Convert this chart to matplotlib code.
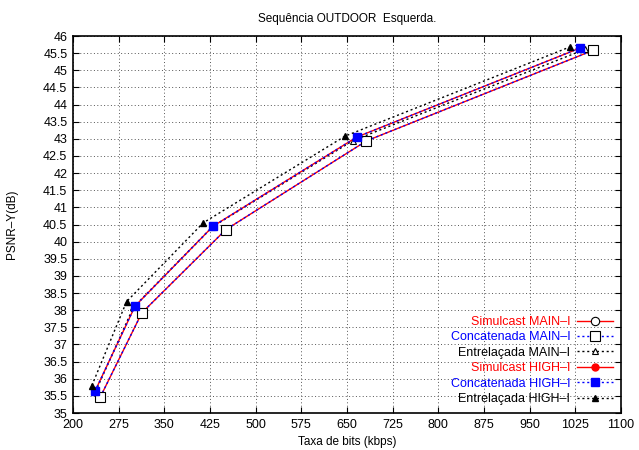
import numpy as np
import matplotlib
matplotlib.use('Agg')
import matplotlib.pyplot as plt

plt.rcParams['font.family'] = ['Liberation Sans', 'DejaVu Sans']

# Taxa de bits (kbps) e PSNR-Y (dB)
sim_main_x = [245, 313, 451, 682, 1054]
sim_main_y = [35.47, 37.92, 40.35, 42.94, 45.58]
conc_main_x = [245, 313, 451, 682, 1054]
conc_main_y = [35.47, 37.92, 40.35, 42.94, 45.58]
entr_main_x = [237, 299, 429, 660, 1041]
entr_main_y = [35.62, 38.08, 40.43, 42.95, 45.61]
sim_high_x = [236, 302, 430, 666, 1033]
sim_high_y = [35.63, 38.12, 40.45, 43.05, 45.65]
conc_high_x = [236, 302, 430, 666, 1033]
conc_high_y = [35.63, 38.12, 40.45, 43.05, 45.65]
entr_high_x = [231, 288, 414, 647, 1016]
entr_high_y = [35.8, 38.25, 40.55, 43.08, 45.68]

xticks = np.arange(200, 1101, 75)
yticks = np.arange(35, 46.01, 0.5)

fig = plt.figure(figsize=(6.39, 4.5), dpi=100)
ax = fig.add_axes([0.1142, 0.0822, 0.8576, 0.8378])

dot = (0, (1.5, 2))
ax.plot(sim_main_x, sim_main_y, color='red', lw=1, marker='o', ms=6,
        mfc='white', mec='black', mew=0.8, label='Simulcast MAIN\u2013I')
ax.plot(conc_main_x, conc_main_y, color='blue', lw=1, ls=dot, marker='s', ms=7,
        mfc='white', mec='black', mew=0.8, label='Concatenada MAIN\u2013I')
ax.plot(entr_main_x, entr_main_y, color='black', lw=1, ls=dot, marker='^', ms=5,
        mfc='white', mec='black', mew=0.8, label='Entrela\u00e7ada MAIN\u2013I')
ax.plot(sim_high_x, sim_high_y, color='red', lw=1, marker='o', ms=5,
        mfc='red', mec='red', label='Simulcast HIGH\u2013I')
ax.plot(conc_high_x, conc_high_y, color='blue', lw=1, ls=dot, marker='s', ms=6,
        mfc='blue', mec='blue', label='Concatenada HIGH\u2013I')
ax.plot(entr_high_x, entr_high_y, color='black', lw=1, ls=dot, marker='^', ms=4.5,
        mfc='black', mec='black', label='Entrela\u00e7ada HIGH\u2013I')

ax.set_xlim(200, 1100)
ax.set_ylim(35, 46)
ax.set_xticks(xticks)
ax.set_yticks(yticks)
ax.set_yticklabels(['%g' % v for v in yticks])
ax.tick_params(direction='in', top=True, right=True, length=4, labelsize=9, pad=4)
ax.grid(True, color='#555555', ls=(0, (1, 2.5)), lw=0.7)
for s in ax.spines.values():
    s.set_linewidth(1.2)

ax.set_title('Sequ\u00eancia OUTDOOR  Esquerda.', fontsize=8.5, pad=10)
ax.set_xlabel('Taxa de bits (kbps)', fontsize=8.5, labelpad=4)
ax.set_ylabel('PSNR\u2013Y(dB)', fontsize=8.5, labelpad=18)

leg = ax.legend(loc='lower right', frameon=False, markerfirst=False, fontsize=9,
                handlelength=2.9, handletextpad=0.5, labelspacing=0.27,
                borderaxespad=0.25,
                labelcolor=['red', 'blue', 'black', 'red', 'blue', 'black'])

fig.savefig('out.png', dpi=100)
